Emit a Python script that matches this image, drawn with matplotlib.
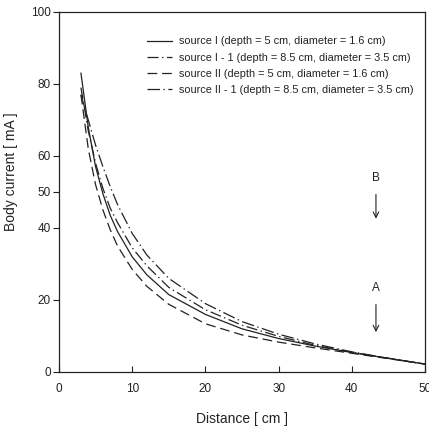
import matplotlib
matplotlib.use("Agg")
import matplotlib.pyplot as plt

plt.rcParams['font.family'] = ['Liberation Sans', 'DejaVu Sans']
plt.rcParams['lines.scale_dashes'] = False

distance = [3, 4, 5, 6, 7, 8, 10, 12, 15, 20, 25, 30, 35, 40, 45, 50]
source_I = [83, 68, 57, 49.5, 43.5, 39, 32, 27, 21.5, 16, 12, 9.3, 7.2, 5.4, 3.8, 2.2]
source_I_1 = [79, 67, 58, 51, 45.5, 41.5, 34.5, 29.5, 23.5, 17.3, 13, 9.9, 7.4, 5.5, 3.8, 2.2]
source_II = [77, 62, 52, 45, 39.5, 35, 28.5, 23.8, 18.8, 13.4, 10.3, 8.3, 6.7, 5.2, 3.7, 2.2]
source_II_1 = [77, 70, 63, 57, 51.5, 46.5, 38.5, 32.5, 26, 19, 14, 10.5, 7.8, 5.6, 3.8, 2.2]

labels = [
    "source I (depth = 5 cm, diameter = 1.6 cm)",
    "source I - 1 (depth = 8.5 cm, diameter = 3.5 cm)",
    "source II (depth = 5 cm, diameter = 1.6 cm)",
    "source II - 1 (depth = 8.5 cm, diameter = 3.5 cm)",
]
y_ticks = [0, 20, 40, 50, 60, 80, 100]
x_ticks = [0, 10, 20, 30, 40, 50]

fig = plt.figure(figsize=(4.29, 4.28), dpi=100)
ax = fig.add_axes([59/429, 1-372/428, 366/429, 360/428])

col = '#222222'
lw = 0.9
ax.plot(distance, source_I, color=col, lw=lw, ls='-', label=labels[0])
ax.plot(distance, source_I_1, color=col, lw=lw, ls=(0, (8, 2.5, 1, 2.5)), label=labels[1])
ax.plot(distance, source_II, color=col, lw=lw, ls=(0, (7, 3.5)), label=labels[2])
ax.plot(distance, source_II_1, color=col, lw=lw, ls=(0, (9, 2.5, 1, 2.5)), label=labels[3])

ax.set_xlim(0, 50)
ax.set_ylim(0, 100)
ax.set_xticks(x_ticks)
ax.set_yticks(y_ticks)
ax.tick_params(axis='x', direction='in', length=4, pad=8, labelsize=8.5, colors=col)
ax.tick_params(axis='y', direction='out', length=4, pad=2, labelsize=8.5, colors=col)
for s in ax.spines.values():
    s.set_linewidth(0.9)
    s.set_color(col)

ax.set_xlabel("Distance [ cm ]", fontsize=10, color=col)
ax.set_ylabel("Body current [ mA ]", fontsize=10, color=col)
ax.xaxis.set_label_coords(0.5, -0.112)
ax.yaxis.set_label_coords(-0.112, 0.556)

# Annotations A and B
ax.text(43.3, 53.8, "B", ha='center', va='center', fontsize=8.5, color=col)
ax.annotate("", xy=(43.3, 41.8), xytext=(43.3, 50.1),
            arrowprops=dict(arrowstyle='->', color=col, lw=0.8))
ax.text(43.3, 23.2, "A", ha='center', va='center', fontsize=8.5, color=col)
ax.annotate("", xy=(43.3, 10.3), xytext=(43.3, 19.5),
            arrowprops=dict(arrowstyle='->', color=col, lw=0.8))

leg = ax.legend(loc='upper left', bbox_to_anchor=(0.240, 0.932), frameon=False,
                fontsize=7.8, handlelength=2.3, handletextpad=0.65,
                labelspacing=0.56, borderpad=0, borderaxespad=0)
for t in leg.get_texts():
    t.set_color(col)

fig.savefig("out.png", dpi=100)
